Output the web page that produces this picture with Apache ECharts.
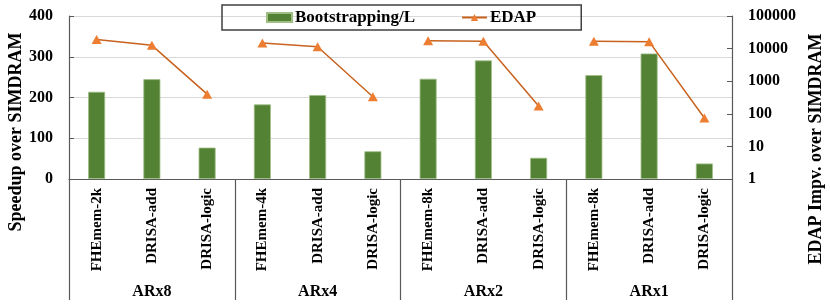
<!DOCTYPE html>
<html>
<head>
<meta charset="utf-8">
<script src="https://cdn.jsdelivr.net/npm/echarts@6/dist/echarts.min.js"></script>
<style>html,body{margin:0;padding:0;background:#fff}#c{width:830px;height:304px}</style>
</head>
<body>
<div id="c"></div>
<script>
var categories = ['FHEmem-2k','DRISA-add','DRISA-logic','FHEmem-4k','DRISA-add','DRISA-logic','FHEmem-8k','DRISA-add','DRISA-logic','FHEmem-8k','DRISA-add','DRISA-logic'];
var groups = ['ARx8','ARx4','ARx2','ARx1'];
var speedup = [214, 245, 77, 183, 206, 68, 246, 291, 52, 255, 308, 38];
var edap = [19000, 12600, 400, 14900, 11400, 335, 17500, 16700, 174, 16700, 16300, 74];
var leftTicks = [0, 100, 200, 300, 400];
var rightTicks = [1, 10, 100, 1000, 10000, 100000];

var FONT = '"Liberation Serif", "Times New Roman", serif';
var AXIS = '#595959';
var chart = echarts.init(document.getElementById('c'), null, {renderer: 'canvas'});

var lineSeries = groups.map(function (g, gi) {
  return {
    name: 'EDAP', type: 'line', yAxisIndex: 1, xAxisIndex: 0,
    data: edap.map(function (v, i) { return Math.floor(i / 3) === gi ? v : '-'; }),
    connectNulls: false,
    symbol: 'triangle', symbolSize: [10, 9],
    lineStyle: {color: '#C8621E', width: 1.5},
    itemStyle: {color: '#ED7D31'},
    z: 5
  };
});

chart.setOption({
  animation: false,
  textStyle: {fontFamily: FONT},
  legend: {
    data: [{name: 'Bootstrapping/L', icon: 'rect'}, {name: 'EDAP'}],
    left: 222, top: 5,
    padding: [4, 45, 4, 44],
    itemGap: 46, itemWidth: 25, itemHeight: 9,
    borderColor: '#404040', borderWidth: 1.5,
    textStyle: {fontFamily: FONT, fontWeight: 'bold', fontSize: 17, color: '#000', padding: [0, 0, 0, -2]}
  },
  grid: {left: 69, right: 98, top: 16, bottom: 125, containLabel: false},
  xAxis: [{
    type: 'category', data: categories, position: 'bottom',
    axisLine: {show: true, lineStyle: {color: AXIS, width: 1.2}},
    axisTick: {show: false},
    axisLabel: {rotate: 90, margin: 9, interval: 0, fontFamily: FONT, fontWeight: 'bold', fontSize: 15, color: '#000'}
  }, {
    type: 'category', data: groups, position: 'bottom',
    axisLine: {show: false},
    axisTick: {show: true, length: 121, lineStyle: {color: AXIS, width: 1.2}},
    axisLabel: {margin: 105, interval: 0, fontFamily: FONT, fontWeight: 'bold', fontSize: 16, color: '#000'},
    splitLine: {show: false}
  }],
  yAxis: [{
    type: 'value', min: leftTicks[0], max: leftTicks[leftTicks.length - 1], interval: 100,
    axisLine: {show: true, lineStyle: {color: AXIS, width: 1.2}},
    axisTick: {show: true, inside: true, length: 5, lineStyle: {color: AXIS}},
    axisLabel: {margin: 16, fontFamily: FONT, fontWeight: 'bold', fontSize: 16, color: '#000'},
    splitLine: {show: true, lineStyle: {color: '#d9d9d9', width: 1}}
  }, {
    type: 'log', logBase: 10, min: rightTicks[0], max: rightTicks[rightTicks.length - 1],
    position: 'right',
    axisLine: {show: true, lineStyle: {color: AXIS, width: 1.2}},
    axisTick: {show: true, inside: true, length: 5, lineStyle: {color: AXIS}},
    axisLabel: {margin: 16, fontFamily: FONT, fontWeight: 'bold', fontSize: 16, color: '#000',
      formatter: function (v) { return String(Math.round(v)); }},
    splitLine: {show: false}
  }],
  graphic: [{
    type: 'text', x: 16, y: 132, rotation: Math.PI / 2,
    style: {text: 'Speedup over SIMDRAM', font: 'bold 18px ' + FONT, fill: '#000', align: 'center', verticalAlign: 'middle'}
  }, {
    type: 'text', x: 816, y: 149, rotation: Math.PI / 2,
    style: {text: 'EDAP Impv. over SIMDRAM', font: 'bold 18px ' + FONT, fill: '#000', align: 'center', verticalAlign: 'middle'}
  }],
  series: [{
    name: 'Bootstrapping/L', type: 'bar', xAxisIndex: 0, yAxisIndex: 0,
    data: speedup, barWidth: 17,
    itemStyle: {color: '#548235', borderColor: '#9fbf85', borderWidth: 0.8}
  }].concat(lineSeries)
});
</script>
</body>
</html>
